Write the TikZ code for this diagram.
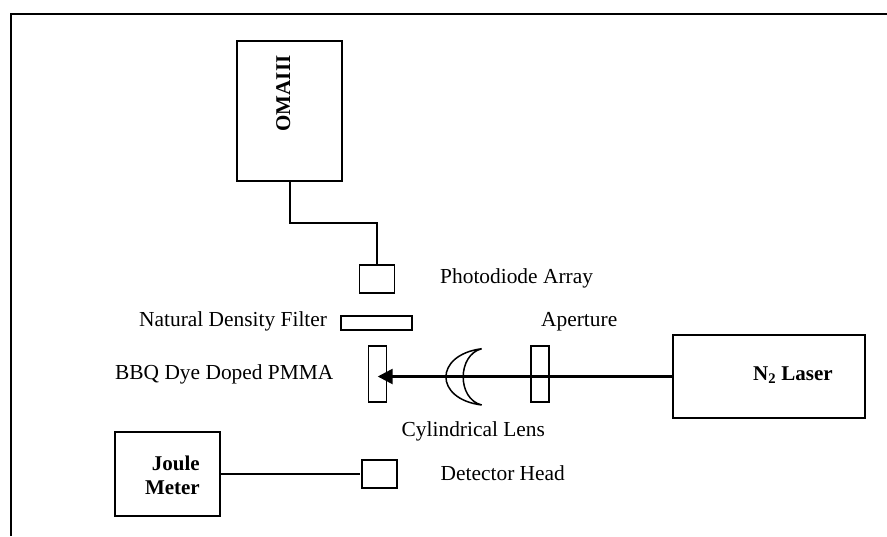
\documentclass[tikz,border=0pt]{standalone}
\usepackage{fontspec}
\setmainfont{Liberation Serif}
\usetikzlibrary{arrows.meta}
\tikzset{
  box/.style={draw=black,line width=1.4pt,inner sep=0pt,rectangle,fill=none},
  label/.style={inner sep=0pt,anchor=base west,font=\fontsize{21.4}{24}\selectfont},
  blabel/.style={inner sep=0pt,font=\fontsize{21}{24}\selectfont\bfseries},
  wire/.style={draw=black,line width=1.5pt},
  beam/.style={draw=black,line width=2.5pt}
}
\begin{document}
\begin{tikzpicture}[x=1pt,y=-1pt]
\useasboundingbox (0,0) rectangle (887,536);
\draw[line width=1.8pt] (11,536) -- (11,14) -- (887,14);
\node[box,minimum width=105pt,minimum height=140pt] (oma) at (289.5,111) {};
\node[blabel,rotate=90,anchor=base] (omat) at (290,93.5) {OMAIII};
\node[box,minimum width=35pt,minimum height=28pt] (pd) at (377,279) {};
\node[box,minimum width=71pt,minimum height=14pt] (ndf) at (376.5,323) {};
\node[box,minimum width=18pt,minimum height=56pt] (bbq) at (377.5,374) {};
\node[box,minimum width=18pt,minimum height=56pt] (ap) at (540,374) {};
\node[box,minimum width=192pt,minimum height=83pt] (laser) at (769,376.5) {};
\node[blabel,anchor=base west] (lasert) at (753,380) {N\textsubscript{2} Laser};
\node[box,minimum width=105pt,minimum height=84pt] (joule) at (167.5,474) {};
\node[blabel,anchor=base east] (joulet1) at (200,470) {Joule};
\node[blabel,anchor=base east] (joulet2) at (200,494) {Meter};
\node[box,minimum width=35pt,minimum height=28pt] (det) at (379.5,474) {};
\coordinate (omafoot) at (289.9,181);
\coordinate (bend1) at (289.9,223);
\draw[wire] (omafoot) -- (bend1) -| (pd.north);
\draw[wire,shorten >=1.5pt] (joule.east) -- (det.west);
\coordinate (lensT) at (481.7,348.7);
\coordinate (lensB) at (481.7,405);
\draw[line width=1.5pt,line join=miter] (lensT) .. controls (434,355) and (434,399) .. (lensB) .. controls (457,399) and (457,355) .. (lensT);
\coordinate (beamend) at (377.7,376.5);
\draw[beam,-{Triangle[length=15pt,width=15pt]}] (laser.west) -- (beamend);
\node[label] (l1) at (440,283.5) {Photodiode Array};
\node[label] (l2) at (139,326) {Natural Density Filter};
\node[label] (l3) at (541,326) {Aperture};
\node[label] (l4) at (115,379) {BBQ Dye Doped PMMA};
\node[label] (l5) at (401.5,436) {Cylindrical Lens};
\node[label] (l6) at (440.5,480) {Detector Head};
\end{tikzpicture}
\end{document}
